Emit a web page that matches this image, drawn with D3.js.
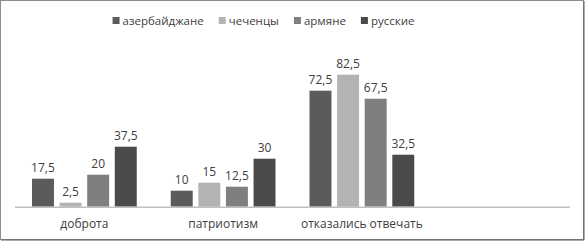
<!DOCTYPE html>
<html>
<head>
<meta charset="utf-8">
<script src="https://cdn.jsdelivr.net/npm/d3@7"></script>
<style>
  html, body { margin: 0; padding: 0; background: #fff; }
  #chart { width: 585px; height: 241px; }
  text { font-family: "Open Sans", "Liberation Sans", sans-serif; fill: #404040; }
</style>
</head>
<body>
<div id="chart"></div>
<script>
const categories = ['доброта', 'патриотизм', 'отказались отвечать', ''];
const seriesNames = ['азербайджане', 'чеченцы', 'армяне', 'русские'];
const seriesColors = ['#5b5b5b', '#b3b3b3', '#7f7f7f', '#4a4a4a'];
const azerbaijani = [17.5, 10, 72.5];
const chechen = [2.5, 15, 82.5];
const armenian = [20, 12.5, 67.5];
const russian = [37.5, 30, 32.5];

(() => {
  const width = 585;
  const height = 241;
  const margin = { top: 62.7, right: 15, bottom: 34.3, left: 15 };
  const values = [azerbaijani, chechen, armenian, russian];
  const fmt = (v) => String(v).replace('.', ',');

  const svg = d3.select('#chart').append('svg').attr('width', width).attr('height', height);

  // frame
  svg.append('rect').attr('x', 0.5).attr('y', 0.5).attr('width', width - 2).attr('height', height - 2)
    .attr('fill', '#fff').attr('stroke', '#8c8c8c');
  svg.append('path').attr('d', `M${width - 1},1V${height - 1}H1`)
    .attr('fill', 'none').attr('stroke', '#5a5a5a').attr('stroke-width', 1);

  const x = d3.scaleBand().domain(d3.range(categories.length)).range([margin.left, width - margin.right]);
  const inner = d3.scaleBand().domain(d3.range(seriesNames.length))
    .range([17, x.bandwidth() - 17]).paddingInner(0.205);
  const y = d3.scaleLinear().domain([0, 90]).range([height - margin.bottom, margin.top]);

  seriesNames.forEach((name, s) => {
    const g = svg.append('g');
    g.selectAll('rect').data(values[s]).enter().append('rect')
      .attr('x', (d, i) => x(i) + inner(s))
      .attr('y', (d) => y(d))
      .attr('width', inner.bandwidth())
      .attr('height', (d) => y(0) - y(d))
      .attr('fill', seriesColors[s]);
    g.selectAll('text').data(values[s]).enter().append('text')
      .attr('x', (d, i) => x(i) + inner(s) + inner.bandwidth() / 2)
      .attr('y', (d) => y(d) - 7)
      .attr('text-anchor', 'middle')
      .attr('font-size', 12)
      .text(fmt);
  });

  svg.append('line')
    .attr('x1', margin.left).attr('x2', width - margin.right)
    .attr('y1', y(0) + 0.5).attr('y2', y(0) + 0.5)
    .attr('stroke', '#bfbfbf').attr('stroke-width', 1.5);

  svg.selectAll('.cat').data(categories).enter().append('text')
    .attr('class', 'cat')
    .attr('x', (d, i) => x(i) + x.bandwidth() / 2)
    .attr('y', y(0) + 21)
    .attr('text-anchor', 'middle')
    .attr('font-size', 12)
    .text((d) => d);

  // legend: measure labels, then centre the row
  const legend = svg.append('g');
  const items = seriesNames.map((name, s) => {
    const item = legend.append('g');
    item.append('rect').attr('x', 0).attr('y', 17).attr('width', 7).attr('height', 7)
      .attr('fill', seriesColors[s]);
    const label = item.append('text').attr('x', 10).attr('y', 25)
      .attr('font-size', 11.5).text(name);
    return { item, w: 10 + label.node().getComputedTextLength() };
  });
  const gap = 15;
  const total = d3.sum(items, (d) => d.w) + gap * (items.length - 1);
  let cursor = 263.5 - total / 2;
  items.forEach((d) => {
    d.item.attr('transform', `translate(${cursor},0)`);
    cursor += d.w + gap;
  });
})();
</script>
</body>
</html>
